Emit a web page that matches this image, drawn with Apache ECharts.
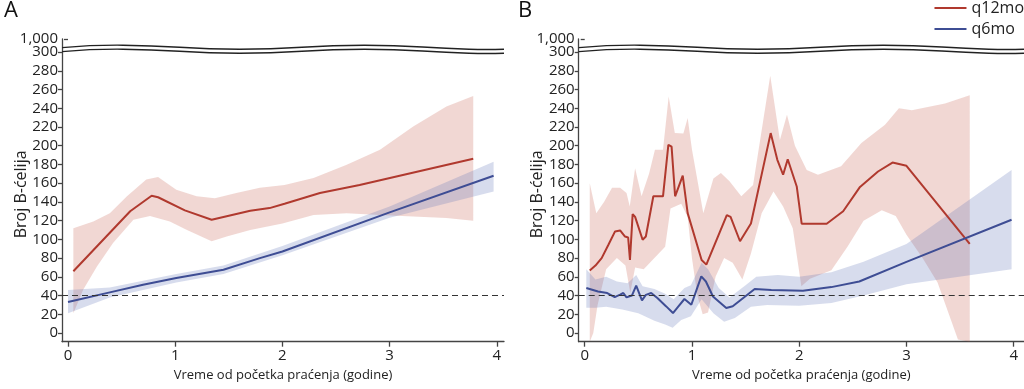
<!DOCTYPE html>
<html><head><meta charset="utf-8">
<script src="https://cdn.jsdelivr.net/npm/echarts@6/dist/echarts.min.js"></script>
<style>html,body{margin:0;padding:0;background:#fff}#c{width:1024px;height:389px}</style>
</head><body><div id="c"></div>
<script>
// ---------- DATA ----------
const panelLabels = ['A', 'B'];
const seriesNames = ['q12mo', 'q6mo'];
const xTitle = 'Vreme od početka praćenja (godine)';
const yTitle = 'Broj B-ćelija';
const xTicks = [0, 1, 2, 3, 4];
const yTicks = [0, 20, 40, 60, 80, 100, 120, 140, 160, 180, 200, 220, 240, 260, 280, 300];
const yBreakLabel = '1,000';
const threshold = 40;

// Panel A – q12mo
const aRedX = [0.05, 0.58, 0.78, 0.84, 1.09, 1.34, 1.70, 1.88, 2.02, 2.35, 2.72, 3.78];
const aRedY = [66, 130, 146.6, 145, 131, 121, 130.6, 133.4, 138, 149.5, 158, 186];
const aRedHiX = [0.05, 0.236, 0.39, 0.55, 0.73, 0.84, 1.01, 1.2, 1.37, 1.57, 1.79, 2.02, 2.29, 2.6, 2.91, 3.22, 3.53, 3.78];
const aRedHiY = [112, 119, 128, 146, 164, 166.5, 153, 146, 144, 149.5, 155, 158, 165.5, 179.7, 195.7, 220.6, 242, 253];
const aRedLoX = [0.05, 0.14, 0.27, 0.42, 0.61, 0.765, 0.95, 1.11, 1.34, 1.48, 1.70, 2.0, 2.29, 2.6, 2.91, 3.22, 3.53, 3.78];
const aRedLoY = [21, 46, 71, 96, 121, 125, 119, 110, 98, 103, 110, 117, 126, 128, 126, 124.5, 122.8, 120];
// Panel A – q6mo
const aBlueX = [0.0, 0.39, 0.70, 1.01, 1.45, 1.79, 2.0, 3.0, 3.97];
const aBlueY = [33, 43.4, 51.6, 58.7, 67.6, 80, 87, 128.8, 168];
const aBlueHiX = [0.0, 0.39, 1.01, 1.45, 2.0, 3.0, 3.97];
const aBlueHiY = [46, 48.5, 63, 72, 93, 135, 183];
const aBlueLoX = [0.0, 0.39, 1.01, 1.45, 2.0, 3.0, 3.97];
const aBlueLoY = [21, 38, 54, 63, 83, 123, 151];

// Panel B – q12mo
const bRedX = [0.047, 0.1, 0.158, 0.22, 0.283, 0.33, 0.376, 0.405, 0.422, 0.447, 0.47, 0.54, 0.57, 0.64, 0.73, 0.78, 0.81, 0.843, 0.86, 0.914, 0.96, 1.09, 1.134, 1.325, 1.36, 1.448, 1.55, 1.734, 1.75, 1.796, 1.85, 1.893, 1.977, 2.023, 2.256, 2.41, 2.567, 2.735, 2.87, 3.0, 3.59];
const bRedY = [66.8, 72, 80, 94, 108.5, 109.5, 103, 102, 78, 127, 124, 99.6, 103, 146, 146, 201, 199, 146, 144, 168, 128, 78, 73, 126, 124, 98, 117, 213.5, 213, 185, 169, 185.6, 156.5, 116.7, 116.7, 130, 156, 172.5, 182, 178.6, 95.3];
const bRedHiX = [0.047, 0.108, 0.18, 0.255, 0.33, 0.39, 0.42, 0.47, 0.53, 0.6, 0.655, 0.73, 0.783, 0.84, 0.92, 0.96, 1.0, 1.106, 1.2, 1.27, 1.35, 1.46, 1.57, 1.73, 1.82, 1.886, 1.96, 2.07, 2.175, 2.39, 2.58, 2.80, 2.93, 3.05, 3.36, 3.59];
const bRedHiY = [160, 128, 140, 155, 155, 149.5, 135, 176, 146, 170, 195.7, 195.7, 252.6, 213.5, 213, 229.5, 196, 128, 165, 171, 162, 146, 158, 274.7, 206, 233, 200, 174, 169, 178, 203, 222.4, 240, 238, 245, 254];
const bRedLoX = [0.047, 0.08, 0.12, 0.2, 0.3, 0.38, 0.425, 0.47, 0.55, 0.65, 0.75, 0.8, 0.9, 0.96, 1.0, 1.05, 1.1, 1.15, 1.22, 1.3, 1.38, 1.47, 1.55, 1.65, 1.76, 1.85, 1.94, 2.02, 2.1, 2.3, 2.45, 2.6, 2.77, 2.9, 3.0, 3.15, 3.29, 3.48, 3.59];
const bRedLoY = [-12, 0, 30, 68, 80, 72, 43, 70, 68, 80, 92, 133, 138, 124, 80, 40, 20, 22, 60, 80, 75, 57, 85, 128, 151, 135, 112, 50, 58, 67, 92, 120, 131, 125, 105, 80, 54, -7, -12];
// Panel B – q6mo
const bBlueX = [0.015, 0.124, 0.21, 0.28, 0.33, 0.36, 0.39, 0.44, 0.48, 0.534, 0.57, 0.62, 0.68, 0.76, 0.823, 0.87, 0.93, 0.994, 1.087, 1.13, 1.196, 1.32, 1.38, 1.49, 1.585, 1.74, 2.035, 2.3, 2.56, 3.0, 3.98];
const bBlueY = [48, 44.4, 42.7, 38.4, 41, 42.7, 38, 40, 50.5, 34.8, 40.7, 42.7, 37, 28.4, 21.3, 28, 36.3, 30.2, 60.4, 55, 39, 26.7, 28.5, 38.4, 47, 46, 45, 49, 55, 76, 121];
const bBlueHiX = [0.015, 0.1, 0.2, 0.3, 0.4, 0.48, 0.54, 0.65, 0.75, 0.83, 0.93, 0.99, 1.09, 1.15, 1.25, 1.35, 1.5, 1.6, 1.8, 2.0, 2.3, 2.6, 3.0, 3.98];
const bBlueHiY = [68, 57, 60, 55, 53, 62, 50, 47, 42, 36, 48, 51, 75, 68, 48, 38, 51, 60, 62, 60, 65, 76, 95, 174];
const bBlueLoX = [0.015, 0.1, 0.2, 0.35, 0.5, 0.65, 0.75, 0.82, 0.9, 0.99, 1.09, 1.2, 1.3, 1.4, 1.55, 1.7, 2.0, 2.3, 2.6, 3.0, 3.98];
const bBlueLoY = [27, 27, 28, 25, 21, 13, 9, 5.7, 14, 18, 36, 21, 12, 16, 28, 30, 29, 32, 40, 52, 68];

// ---------- STYLE / LAYOUT ----------
const FONT = 'Open Sans';
const RED = '#b0392e', BLUE = '#3e4d94';
const RED_BAND = 'rgba(200,95,80,0.25)', BLUE_BAND = 'rgba(95,115,185,0.25)';
const grids = [
  {left: 62, top: 39, width: 442, height: 302.7},
  {left: 578.7, top: 39, width: 445.3, height: 302.7}
];
const xRanges = [[-0.056, 4.067], [-0.056, 4.096]];
const yMin = -9.3, yMax = 314, yBreakPos = 313.8;

function zip(xs, ys) { return xs.map((x, i) => [x, ys[i]]); }

function band(idx, hx, hy, lx, ly, color, name) {
  return {
    type: 'custom', name: name, xAxisIndex: idx, yAxisIndex: idx, z: 1, silent: true,
    data: [[hx[0], Math.max(hy[0], 0)]],
    renderItem: function (params, api) {
      const cs = params.coordSys;
      const bottom = cs.y + cs.height;
      const pts = [];
      for (let i = 0; i < hx.length; i++) pts.push(api.coord([hx[i], hy[i]]));
      for (let i = lx.length - 1; i >= 0; i--) pts.push(api.coord([lx[i], ly[i]]));
      pts.forEach(p => { if (p[1] > bottom) p[1] = bottom; });
      return {type: 'polygon', shape: {points: pts}, style: {fill: color}};
    }
  };
}
function line(idx, xs, ys, color, name, withMark) {
  const s = {
    type: 'line', name: name, xAxisIndex: idx, yAxisIndex: idx, z: 3,
    data: zip(xs, ys), showSymbol: false, symbol: 'none', smooth: false,
    lineStyle: {color: color, width: 2}, itemStyle: {color: color}
  };
  if (withMark) {
    s.markLine = {
      silent: true, symbol: 'none', label: {show: false},
      lineStyle: {color: '#333', type: [6, 4], width: 1.2},
      data: [{yAxis: threshold}]
    };
  }
  return s;
}

function xAxis(i) {
  return {
    type: 'value', gridIndex: i, min: xRanges[i][0], max: xRanges[i][1],
    name: xTitle, nameLocation: 'middle', nameGap: 26,
    nameTextStyle: {fontFamily: FONT, fontSize: 13, color: '#222'},
    axisLine: {show: true, onZero: false, lineStyle: {color: '#444', width: 1.3}},
    axisTick: {show: true, length: 5, customValues: xTicks, lineStyle: {color: '#444', width: 1.3}},
    axisLabel: {customValues: xTicks, margin: 7, fontFamily: FONT, fontSize: 15, color: '#222'},
    splitLine: {show: false}
  };
}
function yAxis(i) {
  return {
    type: 'value', gridIndex: i, min: yMin, max: yMax,
    name: yTitle, nameLocation: 'middle', nameGap: 33, nameMoveOverlap: false,
    nameTextStyle: {fontFamily: FONT, fontSize: 16, color: '#222', padding: [0, 8, 0, 0]},
    axisLine: {show: true, onZero: false, lineStyle: {color: '#444', width: 1.3}},
    axisTick: {show: true, length: 4, customValues: yTicks, lineStyle: {color: '#444', width: 1.3}},
    axisLabel: {customValues: yTicks, margin: 4, fontFamily: FONT, fontSize: 15, color: '#222'},
    splitLine: {show: false}
  };
}
// secondary axis in the same grid carrying only the "1,000" label above the break
function yBreakAxis(i) {
  return {
    type: 'value', gridIndex: i, min: yMin, max: yMax, position: 'left',
    axisLine: {show: false},
    axisTick: {show: true, length: 4, customValues: [yBreakPos], lineStyle: {color: '#444', width: 1.3}},
    axisLabel: {customValues: [yBreakPos], margin: 4, fontFamily: FONT, fontSize: 15, color: '#222',
      formatter: () => yBreakLabel},
    splitLine: {show: false}
  };
}

// break decoration (wavy double line)
const waveDx = [0, 61, 178, 303, 408, 443];
const waveDy = [8.6, 6.2, 10.2, 6.2, 10.2, 10.2];
function breakLines(g) {
  const els = [];
  [0, 4].forEach(off => {
    els.push({
      type: 'polyline', z: 10, silent: true,
      shape: {points: waveDx.map((dx, i) => [g.left + dx * g.width / 443, g.top + waveDy[i] + off]), smooth: 0.5},
      style: {stroke: '#222', lineWidth: 1.4, fill: null}
    });
  });
  return els;
}

const chart = echarts.init(document.getElementById('c'), null, {renderer: 'canvas'});
const option = {
  backgroundColor: '#fff',
  animation: false,
  grid: grids.map(g => Object.assign({containLabel: false}, g)),
  xAxis: [xAxis(0), xAxis(1)],
  yAxis: [yAxis(0), yAxis(1), yBreakAxis(0), yBreakAxis(1)],
  legend: {
    data: seriesNames, orient: 'vertical', right: 0, top: 0, padding: 0, itemGap: 5,
    icon: 'rect', itemWidth: 32, itemHeight: 2,
    textStyle: {fontFamily: FONT, fontSize: 16, color: '#222'}
  },
  series: [
    band(0, aRedHiX, aRedHiY, aRedLoX, aRedLoY, RED_BAND, 'q12mo band A'),
    band(0, aBlueHiX, aBlueHiY, aBlueLoX, aBlueLoY, BLUE_BAND, 'q6mo band A'),
    line(0, aRedX, aRedY, RED, seriesNames[0], true),
    line(0, aBlueX, aBlueY, BLUE, seriesNames[1], false),
    band(1, bRedHiX, bRedHiY, bRedLoX, bRedLoY, RED_BAND, 'q12mo band B'),
    band(1, bBlueHiX, bBlueHiY, bBlueLoX, bBlueLoY, BLUE_BAND, 'q6mo band B'),
    line(1, bRedX, bRedY, RED, seriesNames[0], true),
    line(1, bBlueX, bBlueY, BLUE, seriesNames[1], false)
  ],
  graphic: [
    {type: 'text', left: 4, top: 0, style: {text: panelLabels[0], font: '22px "Open Sans"', fill: '#111'}},
    {type: 'text', left: 518, top: 0, style: {text: panelLabels[1], font: '22px "Open Sans"', fill: '#111'}}
  ].concat(breakLines(grids[0]), breakLines(grids[1]))
};
chart.setOption(option);
</script>
</body></html>
